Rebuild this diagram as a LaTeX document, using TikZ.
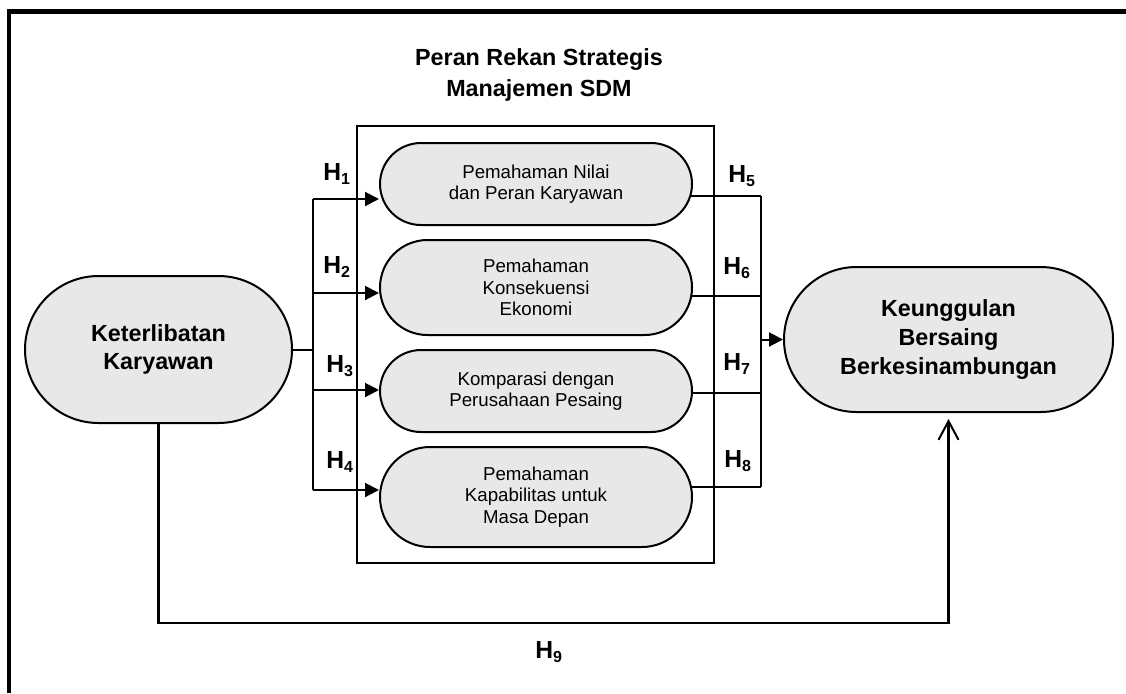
\documentclass[tikz,border=0pt]{standalone}
\usepackage{fontspec}
\setmainfont{Liberation Sans}
\usetikzlibrary{shapes.misc,arrows.meta,backgrounds}
\definecolor{pillgray}{RGB}{232,232,232}
% hypothesis label with a lowered index
\newcommand\hyp[1]{H\raisebox{-3pt}{\fontsize{12pt}{12pt}\selectfont #1}}

\begin{document}
\begin{tikzpicture}[x=0.75pt,y=-0.75pt,
  pill/.style={rounded rectangle, draw, fill=pillgray, line width=1.5pt,
    align=center, inner sep=0pt},
  smalltxt/.style={font=\fontsize{14pt}{16.2pt}\selectfont},
  bigtxt/.style={font=\bfseries\fontsize{17.5pt}{21.5pt}\selectfont},
  hlabel/.style={font=\bfseries\fontsize{18.5pt}{20pt}\selectfont,
    anchor=base west, inner sep=0pt},
  link/.style={line width=1.5pt},
  fillarrow/.style={link, -{Triangle[length=10.5pt,width=10.5pt]}},
]
\useasboundingbox (0,0) rectangle (1126,693);

% outer frame (top and left sides)
\draw[line width=3.2pt] (9,693) -- (9,11.5) -- (1126,11.5);

% title of the mediating block
\node[font=\bfseries\fontsize{17.5pt}{23pt}\selectfont, align=center]
  (title) at (539,75) {Peran Rekan Strategis\\Manajemen SDM};

% container of the four dimensions
\node[draw, line width=1.5pt, minimum width=267.75pt, minimum height=327.75pt,
  inner sep=0pt] (sdm) at (535.5,344.5) {};

% dimensions
\node[pill, smalltxt, minimum width=234pt, minimum height=61.5pt] (p1) at (536,184)
  {Pemahaman Nilai\\dan Peran Karyawan};
\node[pill, smalltxt, minimum width=234pt, minimum height=71.25pt] (p2) at (536,287.5)
  {Pemahaman\\Konsekuensi\\Ekonomi};
\node[pill, smalltxt, minimum width=234pt, minimum height=61.5pt] (p3) at (536,391)
  {Komparasi dengan\\Perusahaan Pesaing};
\node[pill, smalltxt, minimum width=234pt, minimum height=75pt] (p4) at (536,497)
  {Pemahaman\\Kapabilitas untuk\\Masa Depan};

% independent and dependent variables
\node[pill, bigtxt, minimum width=200.25pt, minimum height=110.25pt] (k) at (158.5,349.5)
  {Keterlibatan\\Karyawan};
\node[pill, bigtxt, minimum width=246.75pt, minimum height=108.75pt] (k2) at (948.5,339.5)
  {Keunggulan\\Bersaing\\Berkesinambungan};

% bus points
\coordinate (b1) at (313,199);
\coordinate (b2) at (313,293);
\coordinate (b3) at (313,390);
\coordinate (b4) at (313,490);
\coordinate (r1) at (761,196);
\coordinate (r2) at (761,296);
\coordinate (r3) at (761,393);
\coordinate (r4) at (761,487);
\coordinate (c9) at (948.5,623);

\begin{scope}[on background layer]
  % left bus into the dimensions
  \draw[link] (k.east) -- (k.east -| b1);
  \draw[link] (b1) -- (b4);
  \draw[fillarrow] (b1) -- (b1 -| p1.west);
  \draw[fillarrow] (b2) -- (b2 -| p2.west);
  \draw[fillarrow] (b3) -- (b3 -| p3.west);
  \draw[fillarrow] (b4) -- (b4 -| p4.west);
  % right bus out of the dimensions
  \draw[link] (r1 -| p1.center) -- (r1);
  \draw[link] (r2 -| p2.center) -- (r2);
  \draw[link] (r3 -| p3.center) -- (r3);
  \draw[link] (r4 -| p4.center) -- (r4);
  \draw[link] (r1) -- (r4);
  \draw[fillarrow] (k2.west -| r1) -- (k2.west);
  % direct path
  \draw[line width=1.7pt, -{Straight Barb[length=14pt,width=15pt,line width=1.5pt]}]
    (k.south) |- (c9) -- ([yshift=-4.5pt]k2.south);
\end{scope}

% hypothesis labels
\node[hlabel] (h1) at (323,180) {\hyp{1}};
\node[hlabel] (h2) at (323,273) {\hyp{2}};
\node[hlabel] (h3) at (326,372) {\hyp{3}};
\node[hlabel] (h4) at (326,468) {\hyp{4}};
\node[hlabel] (h5) at (728,182) {\hyp{5}};
\node[hlabel] (h6) at (723,274) {\hyp{6}};
\node[hlabel] (h7) at (723,370) {\hyp{7}};
\node[hlabel] (h8) at (724,467) {\hyp{8}};
\node[hlabel] (h9) at (535,658) {\hyp{9}};
\end{tikzpicture}
\end{document}
